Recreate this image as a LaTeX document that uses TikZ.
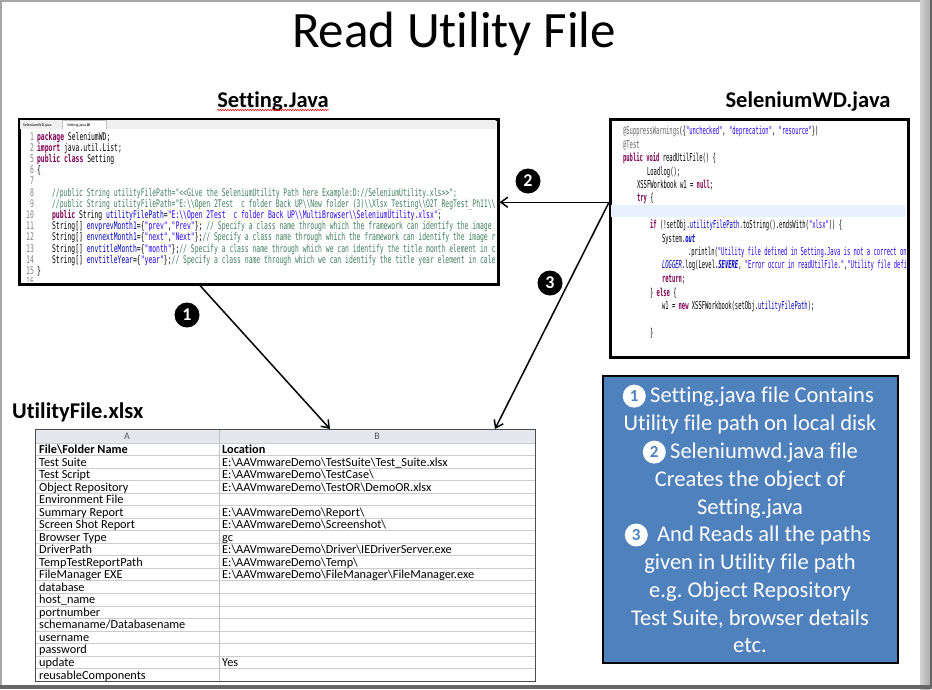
\documentclass[tikz,border=0pt]{standalone}
\usepackage{fontspec}
\setmainfont{Carlito}[Ligatures=NoCommon]
\newfontfamily\codefont{DejaVu Sans Mono}
\newfontfamily\symfont{DejaVu Sans}
\usetikzlibrary{positioning,calc,arrows.meta,decorations.pathmorphing}
\definecolor{jkw}{HTML}{7F0055}
\definecolor{jstr}{HTML}{2A00FF}
\definecolor{jcom}{HTML}{3F7F5F}
\definecolor{jfld}{HTML}{0000C0}
\definecolor{jann}{HTML}{646464}
\definecolor{notebg}{HTML}{4F81BD}
\definecolor{xlhead}{HTML}{E4E7EC}
\definecolor{curline}{HTML}{E8F2FE}
\newcommand{\bs}{\textbackslash}
\newcommand{\kw}[1]{{\color{jkw}\bfseries #1}}
\newcommand{\st}[1]{{\color{jstr}#1}}
\newcommand{\cm}[1]{{\color{jcom}#1}}
\newcommand{\fd}[1]{{\color{jfld}#1}}
\newcommand{\fdi}[1]{{\color{jfld}\itshape #1}}
\newcommand{\an}[1]{{\color{jann}#1}}
\tikzset{
  heading/.style={font=\bfseries\fontsize{22.5}{26}\selectfont,inner sep=0pt,anchor=base},
  shotbox/.style={draw=black,line width=2.5pt,fill=white,inner sep=0pt,anchor=north west},
  setcode/.style={font=\codefont\fontsize{10.5}{12}\selectfont,anchor=base west,inner sep=0pt,xscale=0.61},
  lineno/.style={setcode,anchor=base east,text=gray},
  selcode/.style={font=\codefont\fontsize{11}{13}\selectfont,anchor=base west,inner sep=0pt,xscale=0.5},
  cell/.style={font=\fontsize{12.3}{14}\selectfont,anchor=base west,inner sep=0pt},
  stepmark/.style={circle,fill=black,text=white,font=\bfseries\fontsize{18}{18}\selectfont,minimum size=25pt,inner sep=0pt},
  notemark/.style={circle,fill=white,text=notebg,font=\bfseries\fontsize{17}{17}\selectfont,minimum size=23pt,inner sep=0pt},
  noteline/.style={text=white,font=\fontsize{22.5}{26}\selectfont,inner sep=0pt,anchor=base},
  flow/.style={line width=1.5pt,-{Straight Barb[length=7pt,width=10pt]}},
}
\begin{document}
\begin{tikzpicture}[x=1pt,y=-1pt]
\useasboundingbox (0,0) rectangle (932,689);
\fill[white] (0,0) rectangle (932,689);
\fill[gray!70] (0,0) rectangle (932,2);
\fill[gray!70] (0,0) rectangle (1.5,689);
\shade[left color=gray!35,right color=gray!65] (920,0) rectangle (930,689);
\fill[gray!80!black] (930,0) rectangle (932,689);
\fill[gray!80!black] (0,685) rectangle (932,689);

\node[font=\fontsize{51}{60}\selectfont,anchor=base,inner sep=0pt] (title) at (454,47) {Read Utility File};

\node[heading] (setlabel) at (273,107) {Setting.Java};
\draw[red,line width=0.5pt,decorate,decoration={snake,amplitude=0.8pt,segment length=2.5pt}] ([yshift=-3pt]setlabel.base west) -- ([yshift=-3pt]setlabel.base east);
\node[heading] (sellabel) at (808,107) {SeleniumWD.java};
\node[heading,anchor=base west] (xllabel) at (12,418) {UtilityFile.xlsx};

\node[shotbox,minimum width=479pt,minimum height=165pt] (setbox) at (18,118) {};
\begin{scope}
\clip (19.5,119.5) rectangle (495.5,281.5);
\fill[gray!12] (19.5,119.5) rectangle (495.5,129);
\fill[white] (62,120.5) rectangle (106,129);
\draw[gray!50,line width=0.3pt] (62,129) -- (62,120.5) -- (106,120.5) -- (106,129);
\node[font=\fontsize{4}{5}\selectfont,anchor=west,inner sep=0pt] (tab1) at (23,125) {SeleniumWD.java};
\node[font=\fontsize{4}{5}\selectfont,anchor=west,inner sep=0pt] (tab2) at (67,125) {Setting.java {\symfont ⊠}};
\foreach \n [count=\k from 0] in {1,2,5,6,7,8,9,10,11,12,13,14,15,16}
  \node[lineno] (ln\n) at (34,140+11.2*\k) {\n};
\node[setcode] (sc1) at (37,140) {\kw{package} SeleniumWD;};
\node[setcode] (sc2) at (37,151.2) {\kw{import} java.util.List;};
\node[setcode] (sc5) at (37,162.4) {\kw{public} \kw{class} Setting};
\node[setcode] (sc6) at (37,173.6) {\{};
\node[setcode] (sc8) at (52,196) {\cm{//public String utilityFilePath="<\kern0pt<Give the SeleniumUtility Path here Example:D://SeleniumUtility.xls>\kern0pt>";}};
\node[setcode] (sc9) at (52,207.2) {\cm{//public String utilityFilePath="E:\bs\bs Open 2Test\ \ c folder Back UP\bs\bs New folder (3)\bs\bs Xlsx\_Testing\bs\bs O2T\_RegTest\_Ph11\bs\bs data}};
\node[setcode] (sc10) at (52,218.4) {\kw{public} String \fd{utilityFilePath}=\st{"E:\bs\bs Open 2Test\ \ c folder Back UP\bs\bs MultiBrowser\bs\bs SeleniumUtility.xlsx"};};
\node[setcode] (sc11) at (52,229.6) {String[] \fd{envprevMonth1}=\{\st{"prev"},\st{"Prev"}\}; \cm{// Specify a class name through which the framework can identify the image right}};
\node[setcode] (sc12) at (52,240.8) {String[] \fd{envnextMonth1}=\{\st{"next"},\st{"Next"}\};\cm{// Specify a class name through which the framework can identify the image ref}};
\node[setcode] (sc13) at (52,252) {String[] \fd{envtitleMonth}=\{\st{"month"}\};\cm{// Specify a class name through which we can identify the title month element in calendar}};
\node[setcode] (sc14) at (52,263.2) {String[] \fd{envtitleYear}=\{\st{"year"}\};\cm{// Specify a class name through which we can identify the title year element in calendar}};
\node[setcode] (sc15) at (37,274.4) {\}};
\end{scope}

\node[shotbox,minimum width=298pt,minimum height=238pt] (selbox) at (609,118) {};
\begin{scope}
\clip (610.5,119.5) rectangle (905.5,354.5);
\fill[curline] (610.5,205) rectangle (905.5,217);
\node[selcode] (wd1) at (623,134) {\an{@SuppressWarnings}(\{\st{"unchecked"}, \st{"deprecation"}, \st{"resource"}\})};
\node[selcode] (wd2) at (623,148) {\an{@Test}};
\node[selcode] (wd3) at (623,161) {\kw{public} \kw{void} readUtilFile() \{};
\node[selcode] (wd4) at (647,175) {Loadlog();};
\node[selcode] (wd5) at (637,188) {XSSFWorkbook w1 = \kw{null};};
\node[selcode] (wd6) at (637,201) {\kw{try} \{};
\node[selcode] (wd7) at (650,228) {\kw{if} (!setObj.\fd{utilityFilePath}.toString().endsWith(\st{"xlsx"})) \{};
\node[selcode] (wd8) at (662,242) {System.{\bfseries\fdi{out}}};
\node[selcode] (wd9) at (688,255) {.println(\st{"Utility file defined in Setting.Java is not a correct one. Please check"}};
\node[selcode] (wd10) at (662,268) {\fdi{LOGGER}.log(Level.{\bfseries\fdi{SEVERE}}, \st{"Error occur in readUtilFile."},\st{"Utility file defined in Setting.Java"}};
\node[selcode] (wd11) at (662,282) {\kw{return};};
\node[selcode] (wd12) at (650,296) {\} \kw{else} \{};
\node[selcode] (wd13) at (662,309) {w1 = \kw{new} XSSFWorkbook(setObj.\fd{utilityFilePath});};
\node[selcode] (wd14) at (650,336) {\}};
\end{scope}

\fill[xlhead] (35,429) rectangle (535,443);
\foreach \r in {0,...,18}
  \draw[gray!40,line width=0.8pt] (35,443+12.53*\r) -- (535,443+12.53*\r);
\draw[gray!50,line width=0.8pt] (219,429) -- (219,681);
\node[font=\fontsize{10}{12}\selectfont,text=gray!70!black,inner sep=0pt] (colA) at (127,436) {A};
\node[font=\fontsize{10}{12}\selectfont,text=gray!70!black,inner sep=0pt] (colB) at (377,436) {B};
\node[cell,font=\bfseries\fontsize{12.3}{14}\selectfont] (hdA) at (39,453.5) {File\bs Folder Name};
\node[cell,font=\bfseries\fontsize{12.3}{14}\selectfont] (hdB) at (222,453.5) {Location};
\foreach \a/\b [count=\r] in {Test Suite/E:\bs AAVmwareDemo\bs TestSuite\bs Test\_Suite.xlsx,
  Test Script/E:\bs AAVmwareDemo\bs TestCase\bs,
  Object Repository/E:\bs AAVmwareDemo\bs TestOR\bs DemoOR.xlsx,
  Environment File/{},
  Summary Report/E:\bs AAVmwareDemo\bs Report\bs,
  Screen Shot Report/E:\bs AAVmwareDemo\bs Screenshot\bs,
  Browser Type/gc,
  DriverPath/E:\bs AAVmwareDemo\bs Driver\bs IEDriverServer.exe,
  TempTestReportPath/E:\bs AAVmwareDemo\bs Temp\bs,
  FileManager EXE/E:\bs AAVmwareDemo\bs FileManager\bs FileManager.exe,
  database/{},host\_name/{},portnumber/{},{schemaname/Databasename}/{},
  username/{},password/{},update/Yes,reusableComponents/{}}{
  \node[cell] (ra\r) at (39,453.5+12.53*\r) {\a};
  \node[cell] (rb\r) at (222,453.5+12.53*\r) {\b};
}
\node[draw=gray!60!black,line width=1pt,minimum width=500pt,minimum height=252pt,anchor=north west,inner sep=0pt] (xltable) at (35,429) {};

\node[draw=black,line width=2pt,fill=notebg,minimum width=295pt,minimum height=287pt,anchor=north west,inner sep=0pt] (notebox) at (602,375) {};
\node[noteline,anchor=base west] (nl1) at (650,402) {Setting.java file Contains};
\node[notemark,left=4pt of nl1] (nm1) {1};
\node[noteline] (nl2) at (750,430) {Utility file path on local disk};
\node[noteline,anchor=base west] (nl3) at (670,458) {Seleniumwd.java file};
\node[notemark,left=4pt of nl3] (nm2) {2};
\node[noteline] (nl4) at (750,486) {Creates the object of};
\node[noteline] (nl5) at (750,514) {Setting.java};
\node[noteline,anchor=base west] (nl6) at (657,541) {And Reads all the paths};
\node[notemark,left=9pt of nl6] (nm3) {3};
\node[noteline] (nl7) at (750,569) {given in Utility file path};
\node[noteline] (nl8) at (750,597) {e.g.\ Object Repository};
\node[noteline] (nl9) at (750,625) {Test Suite, browser details};
\node[noteline] (nl10) at (750,652) {etc.};

\node[stepmark] (step1) at (187,315) {1};
\node[stepmark] (step2) at (528,181) {2};
\node[stepmark] (step3) at (550,283) {3};

\coordinate (selport) at ([yshift=36pt]selbox.west);
\draw[flow] ([xshift=182pt]setbox.south west) -- ([xshift=295pt]xltable.north west);
\draw[flow] (selport) -- (selport -| setbox.east);
\draw[flow] (selport) -- ([xshift=460pt]xltable.north west);
\end{tikzpicture}
\end{document}
